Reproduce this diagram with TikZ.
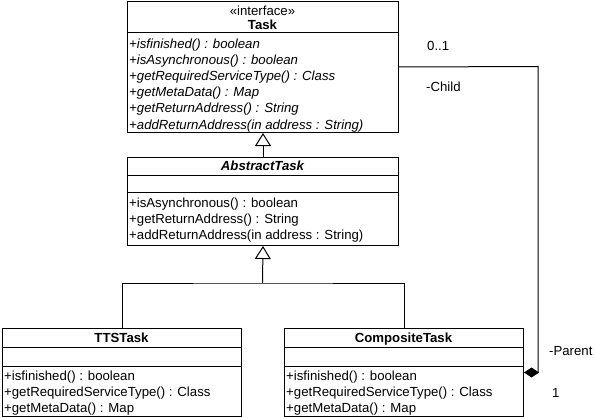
\documentclass[tikz,border=0pt]{standalone}
\usepackage{fontspec}
\setmainfont{Liberation Sans}
\usetikzlibrary{arrows.meta}
\tikzset{
  classbox/.style={draw=black, line width=1pt, fill=white, inner sep=0pt, anchor=north west},
  sepline/.style={draw=black, line width=1pt},
  row/.style={anchor=base west, inner sep=0pt, font=\fontsize{13.2}{16}\selectfont},
  title/.style={anchor=base, inner sep=0pt, font=\fontsize{13.2}{16}\selectfont},
  lbl/.style={anchor=base west, inner sep=0pt, font=\fontsize{13.2}{16}\selectfont},
  conn/.style={draw=black, line width=1pt},
  gen/.style={conn, -{Triangle[open, length=13pt, width=16pt, fill=white, line width=1pt]}},
  comp/.style={conn, -{Diamond[length=15pt, width=10pt, fill=black, line width=1pt]}},
}
\begin{document}
\begin{tikzpicture}[x=1pt, y=-1pt]
\useasboundingbox (0,0) rectangle (596,417);
% Task
\node[classbox, minimum width=271pt, minimum height=131pt] (task) at (127,1) {};
\draw[sepline] (127,33) -- (398,33);
\node[title] (taskst) at (262.5,15.5) {«interface»};
\node[title, font=\fontsize{13.2}{16}\selectfont\bfseries] (taskname) at (262.5,30) {Task};
\node[row, font=\fontsize{13.2}{16}\selectfont\itshape] (t1) at (129,49) {+isfinished() : boolean};
\node[row, font=\fontsize{13.2}{16}\selectfont\itshape] (t2) at (129,65) {+isAsynchronous() : boolean};
\node[row, font=\fontsize{13.2}{16}\selectfont\itshape] (t3) at (129,81) {+getRequiredServiceType() : Class};
\node[row, font=\fontsize{13.2}{16}\selectfont\itshape] (t4) at (129,97) {+getMetaData() : Map};
\node[row, font=\fontsize{13.2}{16}\selectfont\itshape] (t5) at (129,113) {+getReturnAddress() : String};
\node[row, font=\fontsize{13.2}{16}\selectfont\itshape] (t6) at (129,129) {+addReturnAddress(in address : String)};
% AbstractTask
\node[classbox, minimum width=271pt, minimum height=88pt] (abs) at (127,157) {};
\draw[sepline] (127,175) -- (398,175);
\draw[sepline] (127,192) -- (398,192);
\node[title, font=\fontsize{13.2}{16}\selectfont\bfseries\itshape] (absname) at (262.5,170.5) {AbstractTask};
\node[row] (a1) at (129,207.5) {+isAsynchronous() : boolean};
\node[row] (a2) at (129,223.5) {+getReturnAddress() : String};
\node[row] (a3) at (129,239.5) {+addReturnAddress(in address : String)};
% TTSTask
\node[classbox, minimum width=239pt, minimum height=88pt] (tts) at (2,328) {};
\draw[sepline] (2,347) -- (241,347);
\draw[sepline] (2,366) -- (241,366);
\node[title, font=\fontsize{13.2}{16}\selectfont\bfseries] (ttsname) at (121.5,342) {TTSTask};
\node[row] (s1) at (4,380) {+isfinished() : boolean};
\node[row] (s2) at (4,396) {+getRequiredServiceType() : Class};
\node[row] (s3) at (4,412) {+getMetaData() : Map};
% CompositeTask
\node[classbox, minimum width=239pt, minimum height=88pt] (comp) at (284,328) {};
\draw[sepline] (284,347) -- (523,347);
\draw[sepline] (284,366) -- (523,366);
\node[title, font=\fontsize{13.2}{16}\selectfont\bfseries] (compname) at (403.5,342) {CompositeTask};
\node[row] (c1) at (286,380) {+isfinished() : boolean};
\node[row] (c2) at (286,396) {+getRequiredServiceType() : Class};
\node[row] (c3) at (286,412) {+getMetaData() : Map};
% generalizations
\draw[gen] (abs.north) -- (task.south);
\coordinate (junction) at (262.5,283);
\draw[gen] (junction) -- (abs.south);
\draw[conn] (tts.north) |- (junction) -| (comp.north);
% composition
\coordinate (corner) at (538,66.5);
\draw[comp] (task.east) -- (corner) |- (comp.east);
% labels
\node[lbl] (mult1) at (427,50.5) {0..1};
\node[lbl] (rchild) at (426,91.5) {-Child};
\node[lbl] (rparent) at (549,355.5) {-Parent};
\node[lbl] (mult2) at (552,397.5) {1};
\end{tikzpicture}
\end{document}
